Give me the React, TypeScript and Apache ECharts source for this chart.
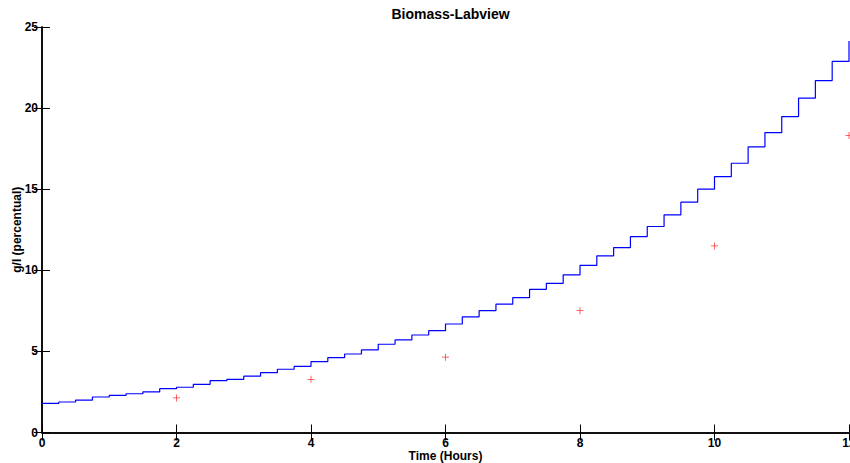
import React, { useEffect, useRef } from "react";
import * as echarts from "echarts";

// Labview biomass reading, sampled every quarter hour (held until next sample)
const labviewTimes: number[] = [
  0, 0.25, 0.5, 0.75, 1, 1.25, 1.5, 1.75, 2, 2.25, 2.5, 2.75, 3, 3.25, 3.5, 3.75,
  4, 4.25, 4.5, 4.75, 5, 5.25, 5.5, 5.75, 6, 6.25, 6.5, 6.75, 7, 7.25, 7.5, 7.75,
  8, 8.25, 8.5, 8.75, 9, 9.25, 9.5, 9.75, 10, 10.25, 10.5, 10.75, 11, 11.25, 11.5, 11.75, 12,
];
const labviewValues: number[] = [
  1.8, 1.88, 2.0, 2.19, 2.29, 2.39, 2.5, 2.7, 2.79, 2.97, 3.2, 3.28, 3.47, 3.69, 3.9, 4.08,
  4.37, 4.62, 4.84, 5.09, 5.44, 5.71, 6.01, 6.28, 6.69, 7.13, 7.51, 7.91, 8.32, 8.83, 9.2, 9.72,
  10.3, 10.89, 11.4, 12.08, 12.7, 13.42, 14.2, 15.0, 15.78, 16.6, 17.61, 18.49, 19.48, 20.62, 21.7, 22.88, 24.13,
];

// Offline measurements
const sampleTimes: number[] = [2, 4, 6, 8, 10, 12];
const sampleValues: number[] = [2.13, 3.28, 4.64, 7.51, 11.5, 18.31];

const xTicks = { min: 0, max: 12, interval: 2 };
const yTicks = { min: 0, max: 25, interval: 5 };

const FONT = "'Liberation Sans', Arial, Helvetica, sans-serif";
const PLUS = "path://M0,4.45H10V5.55H0Z M4.45,0H5.55V10H4.45Z";

export default function App() {
  const ref = useRef<HTMLDivElement>(null);

  useEffect(() => {
    document.body.style.margin = "0";
    if (!ref.current) return;
    const chart = echarts.init(ref.current, undefined, { renderer: "svg" });

    const axisLine = { show: true, lineStyle: { color: "#000", width: 1.5 } };
    const axisTick = { show: true, inside: true, length: 8, lineStyle: { color: "#000", width: 1 } };
    const label = {
      color: "#000",
      fontFamily: FONT,
      fontWeight: "bold" as const,
      fontSize: 12,
      lineHeight: 12,
    };

    chart.setOption({
      animation: false,
      backgroundColor: "#fff",
      title: {
        text: "Biomass-Labview",
        left: 445.5,
        top: 1,
        textAlign: "center",
        textStyle: { ...label, fontSize: 14, lineHeight: 16 },
      },
      grid: {
        left: 42,
        right: 1,
        top: 27,
        bottom: 30.5,
        containLabel: false,
        outerBoundsMode: "none",
      },
      xAxis: [
        {
          type: "value",
          ...xTicks,
          position: "bottom",
          name: "Time (Hours)",
          nameLocation: "middle",
          nameGap: 17,
          nameMoveOverlap: false,
          nameTextStyle: label,
          axisLine,
          axisTick,
          splitLine: { show: false },
          axisLabel: { ...label, margin: 4 },
        },
        {
          type: "value",
          ...xTicks,
          position: "top",
          axisLine,
          axisTick,
          splitLine: { show: false },
          axisLabel: { show: false },
        },
      ],
      yAxis: [
        {
          type: "value",
          ...yTicks,
          position: "left",
          name: "g/l (percentual)",
          nameLocation: "middle",
          nameGap: 19,
          nameMoveOverlap: false,
          nameTextStyle: label,
          axisLine,
          axisTick,
          splitLine: { show: false },
          axisLabel: { ...label, margin: 4 },
        },
        {
          type: "value",
          ...yTicks,
          position: "right",
          axisLine,
          axisTick,
          splitLine: { show: false },
          axisLabel: { show: false },
        },
      ],
      series: [
        {
          type: "line",
          step: "end",
          data: labviewTimes.map((t, i) => [t, labviewValues[i]]),
          showSymbol: false,
          lineStyle: { color: "#0000ff", width: 1.2 },
          clip: false,
        },
        {
          type: "scatter",
          data: sampleTimes.map((t, i) => [t, sampleValues[i]]),
          symbol: PLUS,
          symbolSize: 7,
          itemStyle: { color: "#ff0000" },
          clip: false,
        },
      ],
    });

    return () => chart.dispose();
  }, []);

  return <div ref={ref} style={{ width: 850, height: 463 }} />;
}
